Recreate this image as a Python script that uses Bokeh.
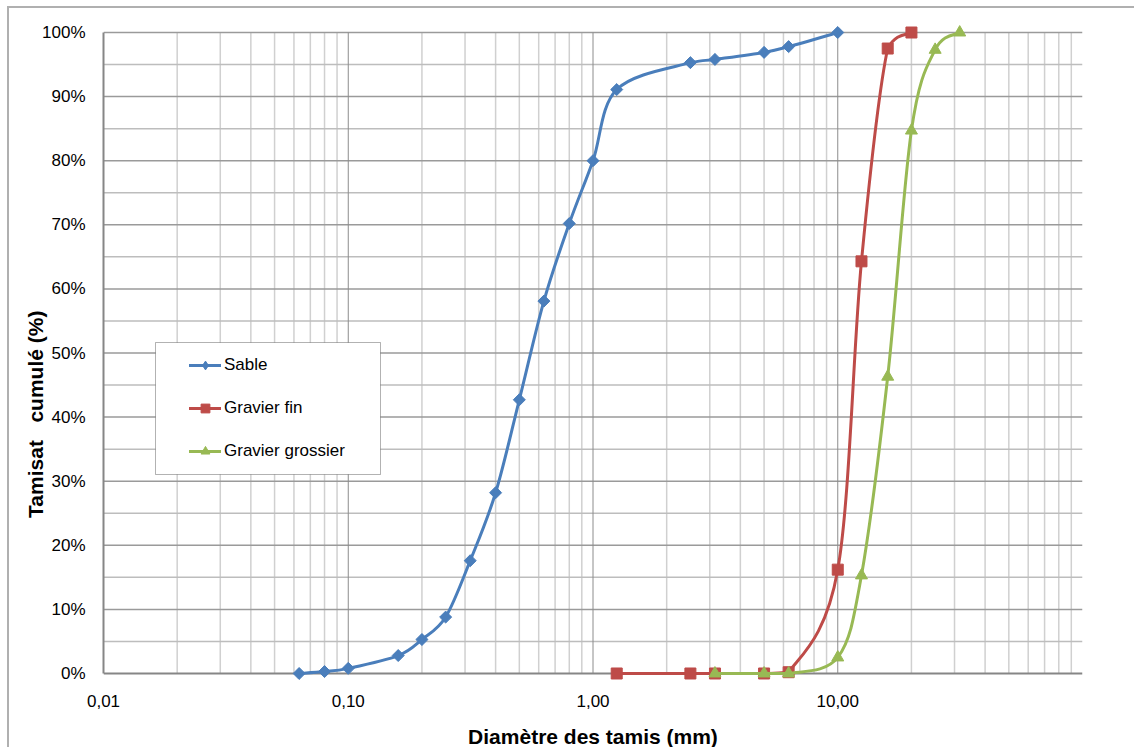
import numpy as np
from bokeh.plotting import figure
from bokeh.models import (FixedTicker, CustomJSTickFormatter, PrintfTickFormatter,
                          Legend, LegendItem, BoxAnnotation, Range1d)
from bokeh.embed import file_html
from bokeh.resources import INLINE

# ---------------- data ----------------
sable_d = [0.063, 0.08, 0.1, 0.16, 0.2, 0.25, 0.315, 0.4, 0.5, 0.63, 0.8, 1.0,
           1.25, 2.5, 3.15, 5.0, 6.3, 10.0]
sable_p = [0.0, 0.3, 0.8, 2.8, 5.3, 8.8, 17.6, 28.2, 42.7, 58.1, 70.2, 80.0,
           91.1, 95.3, 95.8, 96.9, 97.8, 100.0]
fin_d = [1.25, 2.5, 3.15, 5.0, 6.3, 10.0, 12.5, 16.0, 20.0]
fin_p = [0.0, 0.0, 0.0, 0.0, 0.2, 16.2, 64.3, 97.5, 100.0]
gros_d = [3.15, 5.0, 6.3, 10.0, 12.5, 16.0, 20.0, 25.0, 31.5]
gros_p = [0.0, 0.0, 0.0, 2.5, 15.3, 46.3, 84.7, 97.3, 100.0]

series_names = ["Sable", "Gravier fin", "Gravier grossier"]
x_major = [0.01, 0.1, 1.0, 10.0]
y_major = [0, 10, 20, 30, 40, 50, 60, 70, 80, 90, 100]
y_minor = [5, 15, 25, 35, 45, 55, 65, 75, 85, 95]

FONT = "Liberation Sans"
COLORS = ["#4A7EBB", "#BE4B48", "#98B954"]


def smooth_segments(xs, ys):
    """Bezier control points (Excel-like smoothing) computed in log-x space."""
    u = np.log10(np.asarray(xs, float))
    v = np.asarray(ys, float)
    n = len(u)
    out = {k: [] for k in ("x0", "y0", "x1", "y1", "cx0", "cy0", "cx1", "cy1")}
    for i in range(n - 1):
        i0, i3 = max(i - 1, 0), min(i + 2, n - 1)
        c1u = u[i] + (u[i + 1] - u[i0]) / 6.0
        c1v = v[i] + (v[i + 1] - v[i0]) / 6.0
        c2u = u[i + 1] - (u[i3] - u[i]) / 6.0
        c2v = v[i + 1] - (v[i3] - v[i]) / 6.0
        lo, hi = min(v[i], v[i + 1]), max(v[i], v[i + 1])
        c1v = min(max(c1v, lo), hi)
        c2v = min(max(c2v, lo), hi)
        out["x0"].append(10 ** u[i]); out["y0"].append(v[i])
        out["x1"].append(10 ** u[i + 1]); out["y1"].append(v[i + 1])
        out["cx0"].append(10 ** c1u); out["cy0"].append(c1v)
        out["cx1"].append(10 ** c2u); out["cy1"].append(c2v)
    return out


PAD = 1.25
p = figure(x_axis_type="log", output_backend="svg", toolbar_location=None,
           x_range=Range1d(0.01, 100), y_range=Range1d(-PAD, 100 + PAD),
           frame_width=979, frame_height=657,
           min_border_left=94, min_border_right=52, min_border_top=16, min_border_bottom=65)
p.outline_line_color = None
p.background_fill_color = "white"
p.border_fill_color = "white"
p.xgrid.visible = False
p.ygrid.visible = False
# outer chart-area border (left and top edges, the rest lies outside the picture)
p.styles = {"margin-left": "7px", "margin-top": "6px",
            "border-left": "2px solid #b0b0b0", "border-top": "2px solid #b0b0b0"}

# ---------- grid lines (from tick lists) ----------
x_minor = [m * 10.0 ** k for k in range(-2, 2) for m in range(2, 10)]
p.segment(x0=x_minor, y0=[0] * len(x_minor), x1=x_minor, y1=[100] * len(x_minor),
          line_color="#d0d0d0", line_width=1.5, level="underlay")
p.segment(x0=[0.01] * len(y_minor), y0=y_minor, x1=[100] * len(y_minor), y1=y_minor,
          line_color="#bdbdbd", line_width=1.5, level="underlay")
p.segment(x0=[0.01] * 10, y0=y_major[1:], x1=[100] * 10, y1=y_major[1:],
          line_color="#9a9a9a", line_width=1.5, level="underlay")
p.segment(x0=x_major[1:], y0=[0] * 3, x1=x_major[1:], y1=[100] * 3,
          line_color="#8c8c8c", line_width=1, level="underlay")
# x axis baseline at 0 %
p.segment(x0=[0.01], y0=[0], x1=[100], y1=[0], line_color="#868686", line_width=2,
          level="underlay")

# ---------- axes ----------
xa = p.xaxis[0]
xa.ticker = FixedTicker(ticks=x_major, minor_ticks=[])
xa.formatter = CustomJSTickFormatter(code="return tick.toFixed(2).replace('.', ',');")
xa.axis_line_color = None
xa.major_tick_line_color = None
xa.minor_tick_line_color = None
xa.major_label_standoff = 7
xa.major_label_text_font = FONT
xa.major_label_text_font_size = "17px"
xa.major_label_text_color = "black"
xa.axis_label = "Diamètre des tamis (mm)"
xa.axis_label_text_font = FONT
xa.axis_label_text_font_size = "21px"
xa.axis_label_text_font_style = "bold"
xa.axis_label_text_color = "black"
xa.axis_label_standoff = 15

ya = p.yaxis[0]
ya.bounds = (0, 100)
ya.ticker = FixedTicker(ticks=y_major, minor_ticks=[])
ya.formatter = PrintfTickFormatter(format="%d%%")
ya.axis_line_color = "#868686"
ya.axis_line_width = 2
ya.major_tick_line_color = None
ya.minor_tick_line_color = None
ya.major_label_standoff = 12
ya.major_label_text_font = FONT
ya.major_label_text_font_size = "17px"
ya.major_label_text_color = "black"
ya.axis_label = "Tamisat\u00a0\u00a0\u00a0cumulé (%)" + "\u00a0" * 21
ya.axis_label_text_font = FONT
ya.axis_label_text_font_size = "21px"
ya.axis_label_text_font_style = "bold"
ya.axis_label_text_color = "black"
ya.axis_label_standoff = -8

# ---------- series ----------
markers = [("square", 8.5, np.pi / 4), ("square", 11, 0.0), ("triangle", 12, 0.0)]
items = []
for k, (name, xs, ys, col, (mk, sz, ang)) in enumerate(zip(series_names, [sable_d, fin_d, gros_d],
                                                           [sable_p, fin_p, gros_p], COLORS, markers)):
    seg = smooth_segments(xs, ys)
    b = p.bezier(line_color=col, line_width=3, line_cap="round", **seg)
    if ang != 0.0:
        # diamond sample, hidden under the rotated squares, gives the legend its diamond
        leg = p.scatter(x=xs, y=ys, marker="diamond", size=10, fill_color=col, line_color=col)
        p.scatter(x=xs, y=ys, marker=mk, size=sz, angle=ang, fill_color=col, line_color=col)
    else:
        leg = p.scatter(x=xs, y=ys, marker=mk, size=sz, fill_color=col, line_color=col)
    items.append(LegendItem(label=name, renderers=[b, leg]))

# ---------- legend ----------
p.add_layout(BoxAnnotation(left=52, right=277, top=339, bottom=207,
                           left_units="screen", right_units="screen",
                           top_units="screen", bottom_units="screen",
                           fill_color="white", fill_alpha=1.0,
                           line_color="black", line_width=1))
legend = Legend(items=items, location=(86, 219), padding=0, margin=0, spacing=21,
                glyph_height=22, glyph_width=32, label_height=22, label_standoff=3,
                border_line_color=None, background_fill_alpha=0.0,
                label_text_font=FONT, label_text_font_size="17px", label_text_color="black")
p.add_layout(legend)

open("out.html", "w").write(file_html(p, INLINE))
